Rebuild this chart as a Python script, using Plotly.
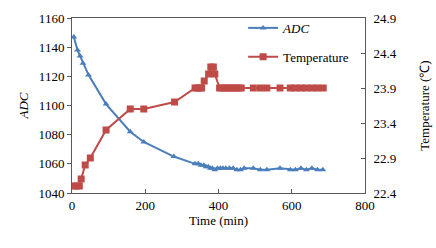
import plotly.graph_objects as go

adc_time = [5, 15, 22, 30, 45, 93, 159, 196, 278, 336, 345, 352, 360, 366, 372, 378, 383,
            390, 397, 405, 412, 420, 430, 440, 450, 460, 470, 495, 514, 532, 568, 596,
            610, 625, 640, 655, 670, 685]
adc_values = [1147, 1138, 1134, 1129, 1121, 1101, 1082, 1075, 1065, 1060, 1060, 1059, 1059,
              1058, 1058, 1057, 1057, 1056, 1057, 1057, 1057, 1057, 1057, 1057, 1056, 1056,
              1057, 1057, 1056, 1056, 1057, 1056, 1056, 1057, 1056, 1057, 1056, 1056]

temp_time = [5, 12, 20, 25, 36, 50, 93, 159, 196, 280, 336, 342, 348, 354, 361, 373, 379,
             386, 390, 403, 410, 418, 425, 432, 440, 447, 455, 462, 495, 514, 532, 568,
             596, 610, 625, 640, 655, 670, 686]
temp_values = [22.5, 22.5, 22.5, 22.6, 22.8, 22.9, 23.3, 23.6, 23.6, 23.7, 23.9, 23.9, 23.9,
               23.9, 24.0, 24.1, 24.2, 24.2, 24.1, 23.9, 23.9, 23.9, 23.9, 23.9, 23.9, 23.9,
               23.9, 23.9, 23.9, 23.9, 23.9, 23.9, 23.9, 23.9, 23.9, 23.9, 23.9, 23.9, 23.9]

blue = "#4a7ebb"
red = "#be4b48"
font = dict(family="Liberation Serif", size=13, color="#000000")

fig = go.Figure()
fig.add_trace(go.Scatter(x=adc_time, y=adc_values, name="<i>ADC</i>", mode="lines+markers",
                         line=dict(color=blue, width=2),
                         marker=dict(symbol="triangle-up", size=6, color=blue),
                         legend="legend"))
fig.add_trace(go.Scatter(x=temp_time, y=temp_values, name="Temperature", mode="lines+markers",
                         line=dict(color=red, width=2),
                         marker=dict(symbol="square", size=7, color=red),
                         yaxis="y2", legend="legend2"))

axis_line = "#595959"
fig.update_layout(
    width=436, height=248,
    margin=dict(l=72, r=71, t=18, b=55, autoexpand=False),
    paper_bgcolor="white", plot_bgcolor="white",
    font=font,
    showlegend=True,
    xaxis=dict(range=[0, 800], dtick=200, tick0=0, showgrid=False, zeroline=False,
               showline=True, linecolor=axis_line, linewidth=1, mirror=True,
               ticks="inside", ticklen=4, tickcolor=axis_line, automargin=False,
               title=dict(text="Time (min)", font=font, standoff=4)),
    yaxis=dict(range=[1040, 1160], dtick=20, tick0=1040, showgrid=False, zeroline=False,
               showline=True, linecolor=axis_line, linewidth=1, automargin=False,
               ticks="outside", ticklen=4, tickcolor=axis_line,
               title=dict(text="<i>ADC</i>", font=font, standoff=6)),
    yaxis2=dict(range=[22.4, 24.9], dtick=0.5, tick0=22.4, overlaying="y", side="right",
                showgrid=False, zeroline=False, showline=True, linecolor=axis_line,
                linewidth=1, ticks="inside", ticklen=4, tickcolor=axis_line,
                tickformat=".1f", automargin=False, ticklabelstandoff=5,
                title=dict(text="Temperature (℃)", font=font, standoff=24)),
    legend=dict(x=0.584, y=1.029, xanchor="left", yanchor="top", bgcolor="rgba(0,0,0,0)",
                font=font, itemwidth=30),
    legend2=dict(x=0.584, y=0.864, xanchor="left", yanchor="top", bgcolor="rgba(0,0,0,0)",
                 font=font, itemwidth=30),
)

fig.write_html("out.html", config={"displayModeBar": False},
               post_script="document.body.style.margin='0';")
